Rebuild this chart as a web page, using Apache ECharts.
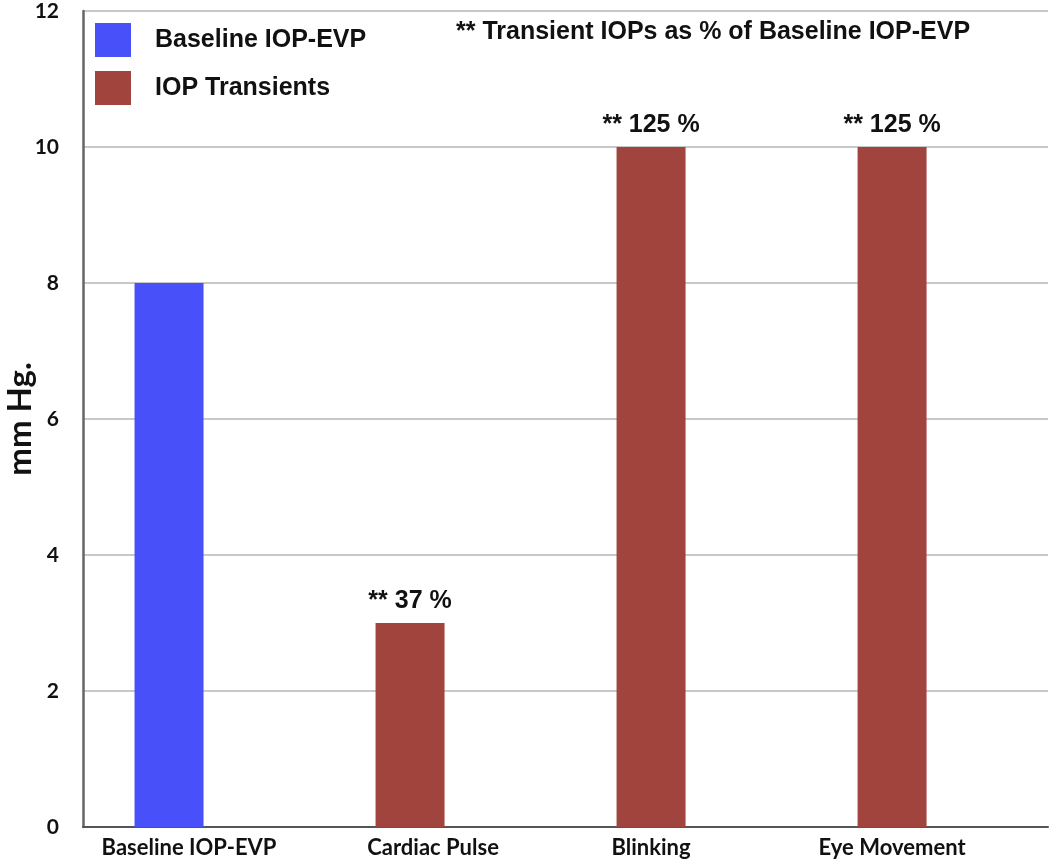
<!DOCTYPE html>
<html><head><meta charset="utf-8">
<script src="https://cdn.jsdelivr.net/npm/echarts@6/dist/echarts.min.js"></script>
<style>html,body{margin:0;padding:0;background:#fff}#c{width:1050px;height:865px}</style>
</head><body><div id="c"></div>
<script>
const categories = ['Baseline IOP-EVP', 'Cardiac Pulse', 'Blinking', 'Eye Movement'];
const baselineValues = [8];
const transientValues = [3, 10, 10];
const transientPercents = ['37', '125', '125'];
const yTicks = [0, 2, 4, 6, 8, 10, 12];

const chart = echarts.init(document.getElementById('c'));
const labelFont = 'Lato, "Open Sans", sans-serif';
const arialFont = '"Liberation Sans", Arial, sans-serif';
// label style: horizontal nudge (px) per category label, as in the source figure
const labelNudgeStyles = ['n40', 'n46', 'n0', 'n0'];
const rich = {
  n40: { padding: [0, 0, 0, 40] },
  n46: { padding: [0, 0, 0, 46] },
  n0: { padding: [0, 0, 0, 0] }
};
Object.values(rich).forEach(s => Object.assign(s, { fontFamily: labelFont, fontWeight: 'bold', fontSize: 22, color: '#111' }));
chart.setOption({
  animation: false,
  backgroundColor: '#fff',
  grid: { left: 83, right: 2, top: 11, bottom: 38, outerBoundsMode: 'none', containLabel: false },
  legend: {
    orient: 'vertical', left: 95, top: 23, padding: 0,
    itemWidth: 36, itemHeight: 34, itemGap: 14,
    icon: 'rect',
    textStyle: { fontFamily: arialFont, fontWeight: 'bold', fontSize: 25, color: '#111', padding: [9, 0, 0, 19] },
    data: ['Baseline IOP-EVP', 'IOP Transients']
  },
  graphic: [{
    type: 'text', left: 456, top: 20,
    style: { text: '** Transient IOPs as % of Baseline IOP-EVP', font: 'bold 25px "Liberation Sans", Arial, sans-serif', fill: '#111' }
  }],
  xAxis: {
    type: 'value', min: -0.357, max: 3.647,
    axisLine: { show: true, lineStyle: { color: '#555', width: 2 } },
    axisTick: { show: false },
    splitLine: { show: false },
    axisLabel: {
      customValues: [0, 1, 2, 3],
      formatter: v => {
        const i = Math.round(v);
        return categories[i] ? '{' + labelNudgeStyles[i] + '|' + categories[i] + '}' : '';
      },
      rich: rich,
      fontFamily: labelFont, fontWeight: 'bold', fontSize: 22, color: '#111', margin: 10
    }
  },
  yAxis: {
    type: 'value', min: yTicks[0], max: yTicks[yTicks.length - 1], interval: 2,
    name: 'mm Hg.', nameLocation: 'middle', nameGap: 46, nameMoveOverlap: false,
    nameTextStyle: { fontFamily: labelFont, fontWeight: 'bold', fontSize: 33, color: '#111' },
    axisLine: { show: true, onZero: false, lineStyle: { color: '#666', width: 2.5 } },
    axisTick: { show: false },
    splitLine: { show: true, lineStyle: { color: '#c8c8c8', width: 2 } },
    axisLabel: { fontFamily: labelFont, fontWeight: 'bold', fontSize: 21, color: '#111', margin: 24 }
  },
  series: [
    {
      name: 'Baseline IOP-EVP', type: 'bar', barWidth: 69, barGap: '-100%',
      itemStyle: { color: '#4850fa' },
      data: baselineValues.map((v, i) => [i, v])
    },
    {
      name: 'IOP Transients', type: 'bar', barWidth: 69, barGap: '-100%',
      itemStyle: { color: '#a1443e' },
      label: {
        show: true, position: 'top', distance: 9,
        formatter: p => '** ' + transientPercents[p.dataIndex] + ' %',
        fontFamily: arialFont, fontWeight: 'bold', fontSize: 25, color: '#111'
      },
      data: transientValues.map((v, i) => [i + 1, v])
    }
  ]
});
</script></body></html>
